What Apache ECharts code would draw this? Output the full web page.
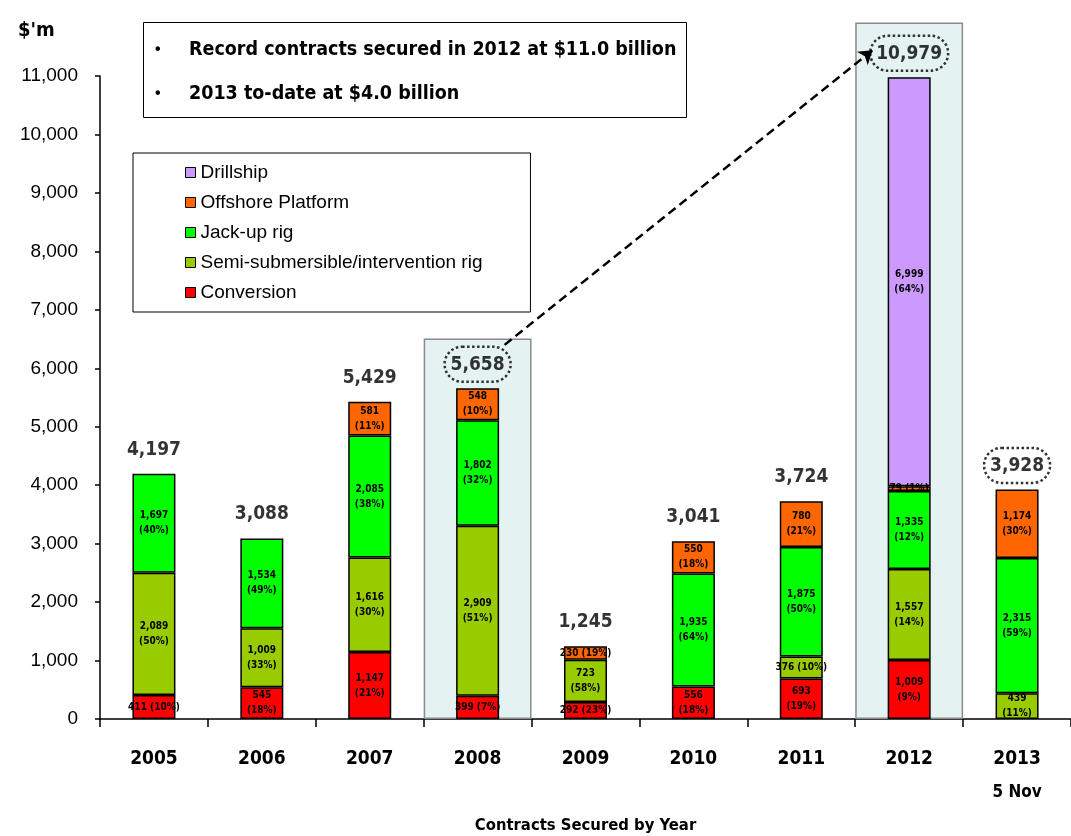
<!DOCTYPE html>
<html>
<head>
<meta charset="utf-8">
<script src="https://cdn.jsdelivr.net/npm/echarts@6/dist/echarts.min.js"></script>
<style>
html,body{margin:0;padding:0;background:#fff;}
#chart{width:1071px;height:836px;}
</style>
</head>
<body>
<div id="chart"></div>
<script>
// ---- data ----
const categories = ['2005','2006','2007','2008','2009','2010','2011','2012','2013'];
const categorySubLabels = ['', '', '', '', '', '', '', '', '5 Nov'];
const conversion      = [411, 545, 1147, 399, 292, 556, 693, 1009, null];
const conversionPct   = [10, 18, 21, 7, 23, 18, 19, 9, null];
const semiSub         = [2089, 1009, 1616, 2909, 723, null, 376, 1557, 439];
const semiSubPct      = [50, 33, 30, 51, 58, null, 10, 14, 11];
const jackUp          = [1697, 1534, 2085, 1802, null, 1935, 1875, 1335, 2315];
const jackUpPct       = [40, 49, 38, 32, null, 64, 50, 12, 59];
const offshore        = [null, null, 581, 548, 230, 550, 780, 79, 1174];
const offshorePct     = [null, null, 11, 10, 19, 18, 21, 1, 30];
const drillship       = [null, null, null, null, null, null, null, 6999, null];
const drillshipPct    = [null, null, null, null, null, null, null, 64, null];
const highlightTops   = [null, null, null, 6510, null, null, null, 11915, null];
const circledYears    = ['2008', '2012', '2013'];
const arrowFrom       = [3.25, 6400];
const arrowTo         = [6.66, 11440];
const yTicks          = [0, 1000, 2000, 3000, 4000, 5000, 6000, 7000, 8000, 9000, 10000, 11000];
const bulletLines     = ['Record contracts secured in 2012 at $11.0 billion', '2013 to-date at $4.0 billion'];

const totals = categories.map((c, i) =>
  [conversion, semiSub, jackUp, offshore, drillship].reduce((s, a) => s + (a[i] || 0), 0));

const NARROW = '"Liberation Sans Narrow", "DejaVu Sans Condensed", "Liberation Sans", sans-serif';
const SANS = '"Liberation Sans", Arial, sans-serif';
const fmt = v => v.toLocaleString('en-US');
const toData = arr => arr.map(v => (v == null ? '-' : v));

function segLabel(vals, pcts) {
  return {
    show: true,
    position: 'inside',
    fontFamily: NARROW,
    fontWeight: 'bold',
    fontSize: 10,
    lineHeight: 15,
    color: '#000',
    formatter: p => {
      const v = vals[p.dataIndex], pc = pcts[p.dataIndex];
      if (v == null) return '';
      if (v < 420) return fmt(v) + ' (' + pc + '%)';
      return fmt(v) + '\n(' + pc + '%)';
    }
  };
}

function stackSeries(name, vals, pcts, color) {
  return {
    name: name,
    type: 'bar',
    stack: 'contracts',
    xAxisIndex: 0,
    yAxisIndex: 0,
    barWidth: 43,
    z: 3,
    data: toData(vals),
    itemStyle: { color: color, borderColor: '#000', borderWidth: 1.5 },
    label: segLabel(vals, pcts),
    emphasis: { disabled: true }
  };
}

const chart = echarts.init(document.getElementById('chart'), null, { renderer: 'canvas' });

const option = {
  backgroundColor: '#ffffff',
  animation: false,
  title: [
    {
      text: "$'m",
      left: 13, top: 16,
      textStyle: { fontFamily: NARROW, fontWeight: 'bold', fontSize: 20, color: '#000' }
    },
    {
      text: bulletLines.map(t => '{b|•}{t|' + t + '}').join('\n'),
      left: 143, top: 10,
      borderColor: '#000', borderWidth: 1,
      padding: [18, 10, 14, 8],
      textStyle: {
        rich: {
          b: { fontFamily: SANS, fontSize: 16, fontWeight: 'bold', width: 34, align: 'left', padding: [0,0,0,4], color: '#000', lineHeight: 44 },
          t: { fontFamily: NARROW, fontSize: 19.5, fontWeight: 'bold', color: '#000', lineHeight: 44 }
        }
      }
    }
  ],
  legend: {
    data: ['Drillship', 'Offshore Platform', 'Jack-up rig', 'Semi-submersible/intervention rig', 'Conversion'],
    orient: 'vertical',
    left: 133, top: 153,
    padding: [10, 48, 10, 52],
    borderColor: '#000', borderWidth: 1,
    itemWidth: 10, itemHeight: 10, itemGap: 11,
    icon: 'rect',
    itemStyle: { borderColor: '#000', borderWidth: 1 },
    textStyle: { fontFamily: SANS, fontSize: 19, color: '#000' },
    selectedMode: false
  },
  grid: { left: 100, right: 0, top: 76, bottom: 117, containLabel: false, outerBoundsMode: 'none' },
  xAxis: [
    {
      type: 'category',
      data: categories,
      axisLine: { onZero: false, lineStyle: { color: '#000', width: 1.5 } },
      axisTick: { show: true, alignWithLabel: false, length: 8, lineStyle: { color: '#000', width: 1.5 } },
      axisLabel: {
        margin: 23,
        interval: 0,
        formatter: (v, i) => categorySubLabels[i] ? '{a|' + v + '}\n{s|' + categorySubLabels[i] + '}' : '{a|' + v + '}',
        rich: {
          a: { fontFamily: NARROW, fontWeight: 'bold', fontSize: 19, color: '#000', lineHeight: 34 },
          s: { fontFamily: NARROW, fontWeight: 'bold', fontSize: 17, color: '#000', lineHeight: 34 }
        }
      },
      name: 'Contracts Secured by Year',
      nameLocation: 'middle',
      nameGap: 98,
      nameTextStyle: { fontFamily: NARROW, fontWeight: 'bold', fontSize: 16.5, color: '#000' }
    },
    { type: 'category', data: categories, show: false, gridIndex: 0 },
    { type: 'value', min: -0.5, max: 8.5, show: false, gridIndex: 0 }
  ],
  yAxis: [
    {
      type: 'value',
      min: yTicks[0], max: yTicks[yTicks.length - 1], interval: yTicks[1] - yTicks[0],
      axisLine: { show: true, onZero: false, lineStyle: { color: '#000', width: 1.5 } },
      axisTick: { show: true, inside: false, length: 5, lineStyle: { color: '#000', width: 1.5 } },
      splitLine: { show: false },
      axisLabel: { margin: 22, fontFamily: SANS, fontSize: 19, color: '#000', formatter: v => fmt(v) }
    }
  ],
  series: [
    {
      name: 'highlight',
      type: 'bar',
      xAxisIndex: 1,
      yAxisIndex: 0,
      barWidth: '100%',
      clip: false,
      z: 1,
      silent: true,
      data: toData(highlightTops),
      itemStyle: { color: '#e4f2f2', borderColor: '#8a8a8a', borderWidth: 1.5 }
    },
    stackSeries('Conversion', conversion, conversionPct, '#ff0000'),
    stackSeries('Semi-submersible/intervention rig', semiSub, semiSubPct, '#99cc00'),
    stackSeries('Jack-up rig', jackUp, jackUpPct, '#00ff00'),
    stackSeries('Offshore Platform', offshore, offshorePct, '#ff6600'),
    stackSeries('Drillship', drillship, drillshipPct, '#cc99ff'),
    {
      name: 'totals',
      type: 'scatter',
      xAxisIndex: 0,
      yAxisIndex: 0,
      symbol: 'circle',
      symbolSize: 1,
      itemStyle: { color: 'rgba(0,0,0,0)' },
      z: 5,
      silent: true,
      data: totals,
      label: {
        show: true,
        position: 'top',
        distance: 6,
        formatter: p => circledYears.includes(categories[p.dataIndex]) ? '{c|' + fmt(totals[p.dataIndex]) + '}' : '{n|' + fmt(totals[p.dataIndex]) + '}',
        rich: {
          n: { fontFamily: NARROW, fontWeight: 'bold', fontSize: 19, color: '#000', padding: [0, 0, 8, 0] },
          c: { fontFamily: NARROW, fontWeight: 'bold', fontSize: 19, color: '#000',
               borderColor: '#000', borderWidth: 2.5, borderType: 'dotted', borderRadius: 19,
               padding: [9, 6, 7, 6] }
        }
      }
    },
    {
      name: 'arrow',
      type: 'lines',
      coordinateSystem: 'cartesian2d',
      xAxisIndex: 2,
      yAxisIndex: 0,
      silent: true,
      clip: false,
      z: 6,
      symbol: ['none', 'arrow'],
      symbolSize: 13,
      lineStyle: { color: '#000', width: 2.5, type: [9, 5], opacity: 1, curveness: 0 },
      data: [{ coords: [arrowFrom, arrowTo] }]
    }
  ]
};

chart.setOption(option);
</script>
</body>
</html>
